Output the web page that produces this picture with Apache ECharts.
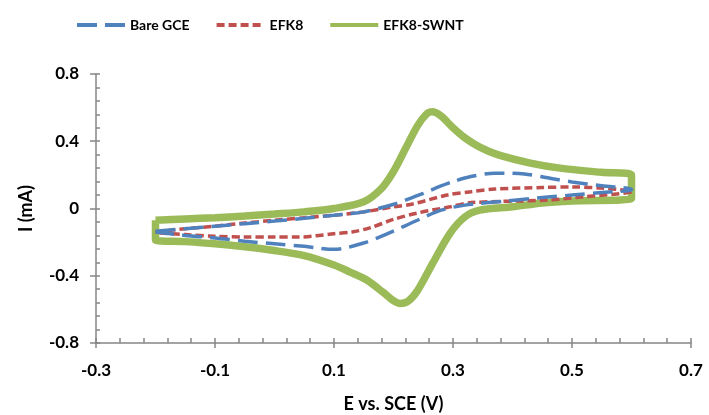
<!DOCTYPE html>
<html>
<head>
<meta charset="utf-8">
<script src="https://cdn.jsdelivr.net/npm/echarts@6/dist/echarts.min.js"></script>
<style>
  html, body { margin: 0; padding: 0; background: #fff; }
  #cvChart { width: 709px; height: 415px; }
</style>
</head>
<body>
<div id="cvChart"></div>
<script>
// Bare GCE: forward scan then reverse scan (E in V, I in mA)
var gceE = [-0.2, -0.15, -0.1, -0.05, 0, 0.05, 0.1, 0.15, 0.2, 0.22, 0.25, 0.27, 0.3, 0.33, 0.37, 0.42, 0.47, 0.5, 0.55, 0.6,
            0.6, 0.55, 0.5, 0.45, 0.39, 0.32, 0.28, 0.24, 0.19, 0.15, 0.1, 0.05, 0, -0.05, -0.1, -0.15, -0.2];
var gceI = [-0.135, -0.12, -0.105, -0.09, -0.075, -0.058, -0.04, -0.02, 0.025, 0.05, 0.09, 0.12, 0.16, 0.19, 0.21, 0.205, 0.175, 0.158, 0.135, 0.115,
            0.11, 0.095, 0.08, 0.065, 0.045, 0.02, -0.01, -0.07, -0.15, -0.205, -0.243, -0.225, -0.21, -0.195, -0.175, -0.16, -0.14];

// EFK8
var efkE = [-0.2, -0.15, -0.1, -0.05, 0, 0.05, 0.1, 0.15, 0.2, 0.23, 0.29, 0.33, 0.37, 0.45, 0.5, 0.55, 0.6,
            0.6, 0.52, 0.46, 0.33, 0.295, 0.24, 0.2, 0.16, 0.13, 0.1, 0.04, 0, -0.05, -0.1, -0.15, -0.2];
var efkI = [-0.14, -0.12, -0.105, -0.086, -0.07, -0.055, -0.04, -0.02, 0.01, 0.025, 0.08, 0.1, 0.116, 0.125, 0.128, 0.122, 0.1,
            0.1, 0.07, 0.05, 0.035, 0.01, -0.027, -0.065, -0.115, -0.14, -0.15, -0.17, -0.17, -0.17, -0.165, -0.155, -0.145];

// EFK8-SWNT
var swntE = [-0.2, -0.15, -0.1, -0.05, 0, 0.05, 0.1, 0.15, 0.18, 0.2, 0.22, 0.24, 0.255, 0.265, 0.28, 0.3, 0.32, 0.345, 0.375, 0.43, 0.48, 0.55, 0.6,
             0.6, 0.5, 0.45, 0.4, 0.345, 0.32, 0.295, 0.266, 0.24, 0.225, 0.211, 0.2, 0.182, 0.155, 0.127, 0.1, 0.05, 0, -0.05, -0.1, -0.15, -0.2, -0.2];
var swntI = [-0.07, -0.062, -0.055, -0.045, -0.033, -0.02, 0.0, 0.04, 0.12, 0.22, 0.355, 0.49, 0.56, 0.575, 0.55, 0.48, 0.42, 0.365, 0.32, 0.27, 0.24, 0.215, 0.2,
             0.06, 0.045, 0.033, 0.01, -0.01, -0.05, -0.148, -0.325, -0.49, -0.55, -0.565, -0.548, -0.497, -0.425, -0.378, -0.336, -0.28, -0.25, -0.228, -0.21, -0.197, -0.187, -0.07];

var xTicks = [-0.3, -0.1, 0.1, 0.3, 0.5, 0.7];
var yTicks = [-0.8, -0.4, 0, 0.4, 0.8];

function pairs(xs, ys) {
  var out = [];
  for (var i = 0; i < xs.length; i++) out.push([xs[i], ys[i]]);
  return out;
}

var font = 'Lato, "Liberation Sans", sans-serif';
var axisGray = '#868686';

var cvOptions = {
  animation: false,
  textStyle: { fontFamily: font },
  legend: {
    left: 70,
    top: 13,
    itemWidth: 48,
    itemHeight: 14,
    itemGap: 25,
    itemStyle: { opacity: 0 },
    lineStyle: { width: 4 },
    textStyle: { fontFamily: font, fontWeight: 'bold', fontSize: 14, color: '#000' },
    data: ['Bare GCE', 'EFK8', 'EFK8-SWNT']
  },
  grid: { left: 96, right: 18, top: 74, bottom: 72, outerBoundsMode: 'none' },
  xAxis: [{
    type: 'value',
    min: -0.3, max: 0.7, interval: 0.2,
    name: 'E vs. SCE (V)',
    nameLocation: 'middle',
    nameGap: 52,
    nameTextStyle: { fontFamily: font, fontWeight: 'bold', fontSize: 18, color: '#000' },
    axisLine: { show: true, onZero: false, lineStyle: { color: axisGray, width: 1.5 } },
    axisTick: { show: true, length: 5, lineStyle: { color: axisGray, width: 1.5 } },
    splitLine: { show: false },
    axisLabel: {
      margin: 19, fontFamily: font, fontWeight: 'bold', fontSize: 17, color: '#000',
      formatter: function (v) { var r = Math.round(v * 10) / 10; return xTicks.indexOf(r) >= 0 ? String(r) : ''; }
    }
  }, {
    type: 'value',
    position: 'bottom',
    min: -0.3, max: 0.7, interval: 0.2,
    axisLine: { show: false, onZero: false },
    axisTick: { show: true, inside: true, length: 5, lineStyle: { color: axisGray, width: 1.5 } },
    minorTick: { show: true, splitNumber: 5, length: 5, lineStyle: { color: axisGray, width: 1.5 } },
    axisLabel: { show: false },
    splitLine: { show: false }
  }],
  yAxis: [{
    type: 'value',
    min: -0.8, max: 0.8, interval: 0.4,
    name: 'I (mA)',
    nameLocation: 'middle',
    nameGap: 61,
    nameTextStyle: { fontFamily: font, fontWeight: 'bold', fontSize: 18, color: '#000' },
    axisLine: { show: true, onZero: false, lineStyle: { color: axisGray, width: 1.5 } },
    axisTick: { show: true, length: 6, lineStyle: { color: axisGray, width: 1.5 } },
    splitLine: { show: false },
    axisLabel: {
      margin: 17, fontFamily: font, fontWeight: 'bold', fontSize: 17, color: '#000',
      formatter: function (v) { var r = Math.round(v * 10) / 10; return yTicks.indexOf(r) >= 0 ? String(r) : ''; }
    }
  }, {
    type: 'value',
    position: 'left',
    min: -0.8, max: 0.8, interval: 0.4,
    axisLine: { show: false, onZero: false },
    axisTick: { show: true, inside: true, length: 4, lineStyle: { color: axisGray, width: 1.5 } },
    minorTick: { show: true, splitNumber: 5, length: 4, lineStyle: { color: axisGray, width: 1.5 } },
    axisLabel: { show: false },
    splitLine: { show: false }
  }],
  series: [{
    name: 'EFK8-SWNT',
    type: 'line',
    smooth: 0.3,
    symbol: 'none',
    z: 1,
    color: '#9BBB59',
    lineStyle: { color: '#9BBB59', width: 7.5 },
    data: pairs(swntE, swntI)
  }, {
    name: 'Bare GCE',
    type: 'line',
    smooth: 0.3,
    symbol: 'none',
    z: 3,
    color: '#4F81BD',
    lineStyle: { color: '#4F81BD', width: 3.5, type: [20, 8] },
    data: pairs(gceE, gceI)
  }, {
    name: 'EFK8',
    type: 'line',
    smooth: 0.3,
    symbol: 'none',
    z: 2,
    color: '#C0504D',
    lineStyle: { color: '#C0504D', width: 3.5, type: [8, 4] },
    data: pairs(efkE, efkI)
  }]
};

var cvChart = echarts.init(document.getElementById('cvChart'));
cvChart.setOption(cvOptions);
</script>
</body>
</html>
